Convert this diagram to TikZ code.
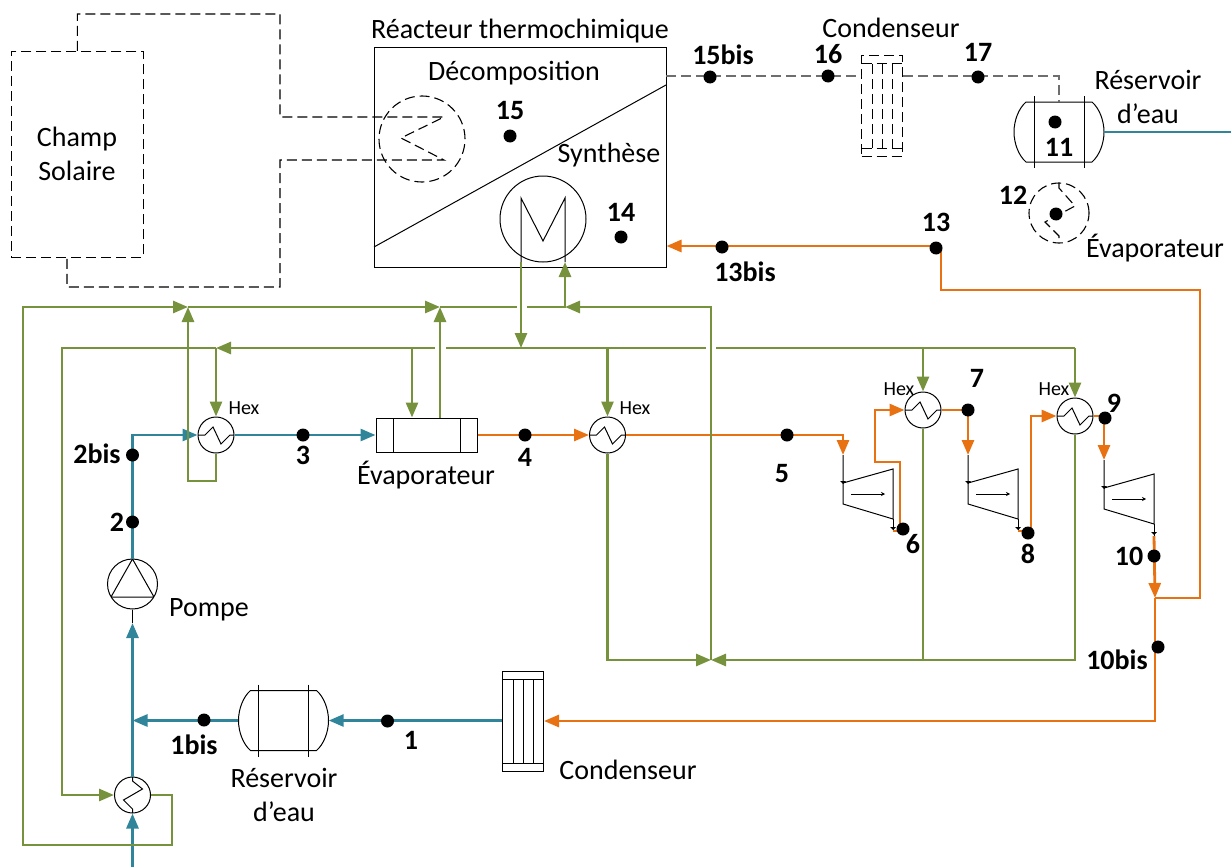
\documentclass[tikz,border=0pt]{standalone}
\usepackage{fontspec}
\setmainfont{Carlito}
\usepackage{tikz}
\usetikzlibrary{arrows.meta,calc}
\definecolor{bluefluid}{RGB}{49,133,155}
\definecolor{greenfluid}{RGB}{118,146,60}
\definecolor{orangefluid}{RGB}{232,113,17}
\definecolor{graydash}{RGB}{110,110,110}
\begin{document}
\begin{tikzpicture}[x=1pt,y=-1pt,
        txt/.style={font=\fontsize{28}{30}\selectfont, inner sep=0pt, align=center},
        num/.style={font=\fontsize{28}{30}\selectfont\bfseries, inner sep=0pt},
        hexlab/.style={font=\fontsize{20}{22}\selectfont, inner sep=0pt},
        point/.style={circle, fill=black, inner sep=0pt, minimum size=13pt},
        dashline/.style={dash pattern=on 10pt off 5pt, line width=1.1pt},
        arrow/.style={-{Triangle[length=15pt,width=12pt]}},
        bluel/.style={draw=bluefluid, line width=2.8pt},
        greenl/.style={draw=greenfluid, line width=2.8pt},
        orangel/.style={draw=orangefluid, line width=2.8pt},
        hex/.style={circle, draw, line width=1pt, minimum size=36pt, inner sep=0pt,
                    path picture={\draw (path picture bounding box.west) -- ++(7,0) -- ++(8,-8) -- ++(8,17) -- ++(9,-9) -- ++(5,0);}},
        hexv/.style={circle, draw, line width=1pt, minimum size=36pt, inner sep=0pt,
                    path picture={\draw (path picture bounding box.north) -- ++(0,4) -- ++(10,8) -- ++(-19,11) -- ++(9,9) -- ++(0,5);}},
        pump/.style={circle, draw, line width=1pt, minimum size=50pt, inner sep=0pt,
                    path picture={\draw (path picture bounding box.north) -- ++(-21.5,38) -- ++(43,0) -- cycle;}},
        evapbox/.style={rectangle, draw, line width=1pt, minimum width=101pt, minimum height=34pt, inner sep=0pt,
                    path picture={\draw ([xshift=17pt]path picture bounding box.north west) -- ([xshift=17pt]path picture bounding box.south west);
                                  \draw ([xshift=-17pt]path picture bounding box.north east) -- ([xshift=-17pt]path picture bounding box.south east);}},
        tank/.pic={
            \node[minimum width=90pt, minimum height=60pt, inner sep=0pt] (-body) {};
            \draw[line width=1pt] (-33,-30) .. controls (-40,-24) and (-45,-12) .. (-45,0) .. controls (-45,12) and (-40,24) .. (-33,30)
                -- (33,30) .. controls (40,24) and (45,12) .. (45,0) .. controls (45,-12) and (40,-24) .. (33,-30) -- cycle;
            \draw[line width=1pt] (-25,-36) -- (-25,36);
            \draw[line width=1pt] (25,-36) -- (25,36);
        },
        condens/.pic={
            \node[draw, minimum width=41pt, minimum height=100pt, inner sep=0pt, line width=1pt, pic actions] (-body) {};
            \draw[line width=1pt, pic actions] (-20.5,-42) -- (20.5,-42);
            \draw[line width=1pt, pic actions] (-20.5,42) -- (20.5,42);
            \draw[line width=1pt, pic actions] (-10,-42) -- (-10,42);
            \draw[line width=1pt, pic actions] (0,-42) -- (0,42);
            \draw[line width=1pt, pic actions] (10,-42) -- (10,42);
        },
        turbine/.pic={
            \coordinate (-in) at (0,-28);
            \coordinate (-out) at (50,48);
            \draw[line width=1pt] (-in) -- (0,21) -- (50,36) -- (50,-14) -- (0,0);
            \draw[line width=1pt] (50,36) -- (-out);
            \fill (-3,-2) -- (3,-2) -- (0,1) -- cycle;
            \fill (47,44) -- (53,44) -- (50,47) -- cycle;
            \draw[line width=1pt, -{Stealth[length=4pt,width=4pt]}] (8,11) -- (42,11);
        }
    ]
    \useasboundingbox (0,0) rectangle (1231,867);

    \node[draw, dashline, line width=0.8pt, minimum width=132pt, minimum height=206pt, inner sep=0pt] (champ) at (77.4,154.4) {};
    \node[draw, line width=1pt, minimum width=292pt, minimum height=219pt, inner sep=0pt] (reacteur) at (520,157.5) {};
    \node[circle, draw, dashline, minimum size=86pt, inner sep=0pt] (decomp) at (422,139) {};
    \node[circle, draw, line width=1pt, minimum size=86pt, inner sep=0pt] (synth) at (543,219) {};
    \node[circle, draw, dashline, minimum size=60pt, inner sep=0pt] (evaph) at (1059,213) {};
    \node[evapbox] (evapb) at (426.5,435) {};
    \node[pump] (pompe) at (132.5,584) {};
    \node[hex] (hexa) at (216,435) {};
    \node[hex] (hexb) at (607.5,435) {};
    \node[hex] (hexd) at (923,410) {};
    \node[hex] (hexe) at (1075,416) {};
    \node[hexv] (hexc) at (132.5,795) {};
    \pic (reshaut) at (1059,132) {tank};
    \pic (resbas) at (283.5,720.5) {tank};
    \pic[dashline] (condh) at (882,106) {condens};
    \pic (condb) at (523,721) {condens};
    \pic (turba) at (843,483) {turbine};
    \pic (turbb) at (968,483) {turbine};
    \pic (turbc) at (1104,488) {turbine};

    \coordinate (diaga) at (374,247);
    \coordinate (diagb) at (666,85);
    \coordinate (coila) at (521,262);
    \coordinate (coilb) at (565,262);
    \coordinate (sola) at (280,14);
    \coordinate (solb) at (444,117);
    \coordinate (solc) at (401,138);
    \coordinate (sold) at (444,160);
    \coordinate (sole) at (280,160);
    \coordinate (solf) at (280,287);
    \coordinate (solg) at (67,257);
    \coordinate (vapa) at (666,76);
    \coordinate (eaua) at (1231,132);
    \coordinate (eaub) at (132.5,867);
    \coordinate (pompin) at (132.5,623);
    \coordinate (jeau) at (132.5,720.5);
    \coordinate (jsep) at (1155,598);
    \coordinate (orha) at (1200,290);
    \coordinate (orhb) at (941,246);
    \coordinate (orha6) at (900,462);
    \coordinate (orb6) at (875,462);
    \coordinate (or8) at (1031,416);
    \coordinate (gra) at (172,845);
    \coordinate (grb) at (23,307);
    \coordinate (grc) at (188,307);
    \coordinate (grd) at (440,307);
    \coordinate (gre) at (516.5,307);
    \coordinate (grf) at (527,307);
    \coordinate (grg) at (565,307);
    \coordinate (grh) at (711,307);
    \coordinate (gri) at (711,660);
    \coordinate (grj) at (188,481);
    \coordinate (gla) at (62,348);
    \coordinate (glb) at (216,348);
    \coordinate (glc) at (412,348);
    \coordinate (gld) at (434.5,348);
    \coordinate (gle) at (446,348);
    \coordinate (glf) at (521,348);
    \coordinate (glg) at (607.5,348);
    \coordinate (glh) at (706,348);
    \coordinate (gli) at (716,348);
    \coordinate (glj) at (923,348);
    \coordinate (glk) at (1075,348);

    \draw[line width=1pt] (diaga) -- (diagb);
    \draw[line width=1pt] (coila) -- (521,198) -- (543,241) -- (565,198) -- (coilb);
    \draw[dashline] (champ.north) |- (sola) |- (solb) -- (solc) -- (sold) -- (sole) -- (solf) -| (solg);
    \draw[dashline] (1059,183) -- (1059,188) -- (1075,206) -- (1045,222) -- (1059,236) -- (1059,243);
    \draw[dashline, draw=graydash, line width=1.5pt] (vapa) -- (condh-body.west |- vapa);
    \draw[dashline, draw=graydash, line width=1.2pt] (condh-body.east |- vapa) -| (reshaut-body.north);
    \draw[line width=1pt] (pompe.south) -- (pompin);

    \draw[bluel] (reshaut-body.east) -- (eaua);
    \draw[bluel, arrow] (eaub) -- (hexc.south);
    \draw[bluel, arrow] (hexc.north) -- (pompin);
    \draw[bluel, arrow] (pompe.north) |- (hexa.west);
    \draw[bluel, arrow] (hexa.east) -- (evapb.west);
    \draw[bluel, arrow] (condb-body.west |- jeau) -- (resbas-body.east);
    \draw[bluel, arrow] (resbas-body.west) -- (jeau);

    \draw[orangel, arrow] (evapb.east) -- (hexb.west);
    \draw[orangel, arrow] (hexb.east) -| (turba-in);
    \draw[orangel, arrow] (turba-out) -| (orha6) -- (orb6) |- (hexd.west);
    \draw[orangel, arrow] (hexd.east) -| (turbb-in);
    \draw[orangel, arrow] (turbb-out) -| (or8) -- (hexe.west);
    \draw[orangel, arrow] (hexe.east) -| (turbc-in);
    \draw[orangel, arrow] (turbc-out) -- (jsep);
    \draw[orangel, arrow] (jsep) |- (condb-body.east);
    \draw[orangel, arrow] (jsep) -| (orha) -| (orhb) -- (reacteur.east |- orhb);

    \draw[greenl, arrow] (hexc.east) -| (gra) -| (grb) -- (grc);
    \draw[greenl, arrow] (hexa.south) |- (grj) -- (grc);
    \draw[greenl, arrow] (grc) -- (grd);
    \draw[greenl, arrow] (evapb.north -| grd) -- (grd);
    \draw[greenl] (grd) -- (gre);
    \draw[greenl, arrow] (grf) -- (grg) -- (coilb);
    \draw[greenl, arrow] (gri) -- (grh) -- (grg);
    \draw[greenl, arrow] (hexb.south) |- (gri);
    \draw[greenl, arrow] (hexe.south) |- (gri);
    \draw[greenl] (hexd.south) -- (hexd.south |- gri);
    \draw[greenl, arrow] (coila) -- (glf);
    \draw[greenl, arrow] (glk) -- (hexe.north);
    \draw[greenl, arrow] (glj) -- (hexd.north);
    \draw[greenl, arrow] (glg) -- (hexb.north);
    \draw[greenl, arrow] (glc) -- (evapb.north -| glc);
    \draw[greenl, arrow] (glb) -- (hexa.north);
    \draw[greenl] (glk) -- (gli);
    \draw[greenl] (glh) -- (gle);
    \draw[greenl, arrow] (gld) -- (glb);
    \draw[greenl, arrow] (glb) -- (gla) |- (hexc.west);

    \node[txt] (tchamp) at (77,154) {Champ\\[4pt]Solaire};
    \node[txt] (treact) at (520,31) {Réacteur thermochimique};
    \node[txt] (tdecomp) at (514,73) {Décomposition};
    \node[txt] (tsynth) at (609,155) {Synthèse};
    \node[txt] (tcondh) at (891,28) {Condenseur};
    \node[txt] (tresh) at (1148,97) {Réservoir\\[4pt]d’eau};
    \node[txt] (tevaph) at (1155,248) {Évaporateur};
    \node[txt] (tevapb) at (426,475) {Évaporateur};
    \node[txt] (tpompe) at (209,610) {Pompe};
    \node[txt] (tresb) at (284,795) {Réservoir\\[4pt]d’eau};
    \node[txt] (tcondb) at (628,770) {Condenseur};
    \node[hexlab] (hxa) at (244,408) {Hex};
    \node[hexlab] (hxb) at (635,408) {Hex};
    \node[hexlab] (hxd) at (899,389) {Hex};
    \node[hexlab] (hxe) at (1054,389) {Hex};

    \node[point] (p1) at (387.5,721) {};
    \node[point] (p1bis) at (204,720) {};
    \node[point] (p2) at (132.5,522) {};
    \node[point] (p2bis) at (132.5,455) {};
    \node[point] (p3) at (303,435) {};
    \node[point] (p4) at (525,435) {};
    \node[point] (p5) at (787,435) {};
    \node[point] (p6) at (903,529) {};
    \node[point] (p7) at (968,410) {};
    \node[point] (p8) at (1028,533) {};
    \node[point] (p9) at (1105,418) {};
    \node[point] (p10) at (1154,556) {};
    \node[point] (p10bis) at (1158,647) {};
    \node[point] (p11) at (1055,122) {};
    \node[point] (p12) at (1056,214) {};
    \node[point] (p13) at (936,248) {};
    \node[point] (p13bis) at (722,247) {};
    \node[point] (p14) at (621,237) {};
    \node[point] (p15) at (510,136) {};
    \node[point] (p15bis) at (710,77) {};
    \node[point] (p16) at (828,76) {};
    \node[point] (p17) at (978,77) {};

    \node[num] (n1) at (411,740) {1};
    \node[num] (n1bis) at (194,745) {1bis};
    \node[num] (n2) at (117,522) {2};
    \node[num] (n2bis) at (97,454) {2bis};
    \node[num] (n3) at (303,455) {3};
    \node[num] (n4) at (525,457) {4};
    \node[num] (n5) at (782,474) {5};
    \node[num] (n6) at (913,544) {6};
    \node[num] (n7) at (977,378) {7};
    \node[num] (n8) at (1028,554) {8};
    \node[num] (n9) at (1114,403) {9};
    \node[num] (n10) at (1129,556) {10};
    \node[num] (n10bis) at (1117,660) {10bis};
    \node[num] (n11) at (1059,147) {11};
    \node[num] (n12) at (1013,195) {12};
    \node[num] (n13) at (936,222) {13};
    \node[num] (n13bis) at (745,272) {13bis};
    \node[num] (n14) at (621,212) {14};
    \node[num] (n15) at (510,111) {15};
    \node[num] (n15bis) at (723,55) {15bis};
    \node[num] (n16) at (828,54) {16};
    \node[num] (n17) at (978,52) {17};
\end{tikzpicture}
\end{document}
